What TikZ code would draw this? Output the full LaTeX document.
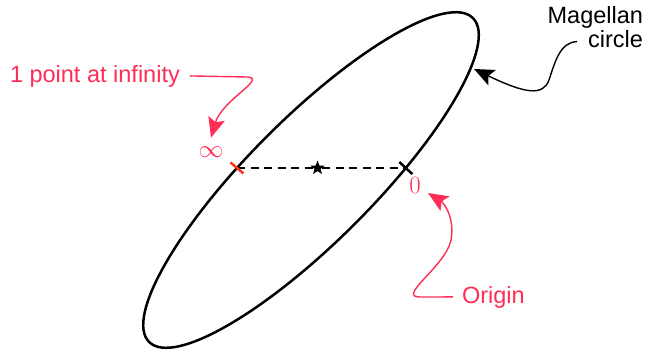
\documentclass[tikz,border=0pt]{standalone}
\usepackage[no-math]{fontspec}
\setmainfont{Liberation Sans}
\usetikzlibrary{arrows.meta,calc,shapes.geometric}
\definecolor{pinkred}{RGB}{255,45,85}
\definecolor{tickred}{RGB}{255,50,30}
\tikzset{
  lbl/.style={inner sep=0pt, outer sep=0pt, font=\fontsize{23.5}{24}\selectfont},
  sym/.style={inner sep=0pt, font=\fontsize{24.88}{26}\selectfont, text=pinkred},
  circ/.style={line width=2.5pt},
  chord/.style={line width=2.2pt, dash pattern=on 8pt off 5.5pt},
  tick/.style={line width=2.5pt},
  callout/.style={line width=1.4pt, -{Stealth[length=20pt,width=17pt,inset=4pt]}},
}
\begin{document}
\begin{tikzpicture}[x=1pt,y=-1pt]
\useasboundingbox (0,0) rectangle (645,351);
% Magellan circle
\draw[circ, rotate around={45:(311,180)}] (311,180) ellipse [x radius=229, y radius=62];
\coordinate (inf) at (237,168);
\coordinate (zero) at (405.8,168);
\node[star, star points=5, star point ratio=2.4, fill=black, inner sep=0pt, minimum size=15pt] (ctr) at (317.5,168) {};
\draw[chord] (inf) -- (ctr);
\draw[chord] (ctr) -- (zero);
\draw[tick, tickred] ($(inf)+(-6.5,-5.5)$) -- ($(inf)+(6.5,5.5)$);
\draw[tick] ($(zero)+(-6.5,-6)$) -- ($(zero)+(6.5,6)$);
% symbols
\node[sym, outer sep=9pt] (infsym) at (211,152) {$\infty$};
\node[sym, outer sep=0pt] (zerosym) at (415,185) {$0$};
% labels
\node[lbl, text=pinkred, anchor=base west, outer sep=10pt] (lblinf) at (0,82) {1 point at infinity};
\node[lbl, text=pinkred, anchor=base west, outer sep=9pt] (lblorig) at (453,303) {Origin};
\node[lbl, anchor=base east] (lblmag) at (643,23.5) {Magellan};
\node[lbl, anchor=base east, outer sep=11pt] (lblcirc) at (654,47) {circle};
% callouts
\coordinate (zerotip) at (428,193);
\coordinate (circtip) at (474,69);
\draw[callout, pinkred] (lblinf.east) -- (247,77) .. controls (268,78) and (222,100) .. (infsym.north);
\draw[callout, pinkred] (lblorig.west) -- (420,297) .. controls (396,297) and (446,266) .. (451,240) .. controls (455,218) and (444,203) .. (zerotip);
\draw[callout] ($(lblcirc.west)+(0,3)$) .. controls (560,42) and (555,62) .. (549,80) .. controls (543,96) and (526,94) .. (circtip);
\end{tikzpicture}
\end{document}
